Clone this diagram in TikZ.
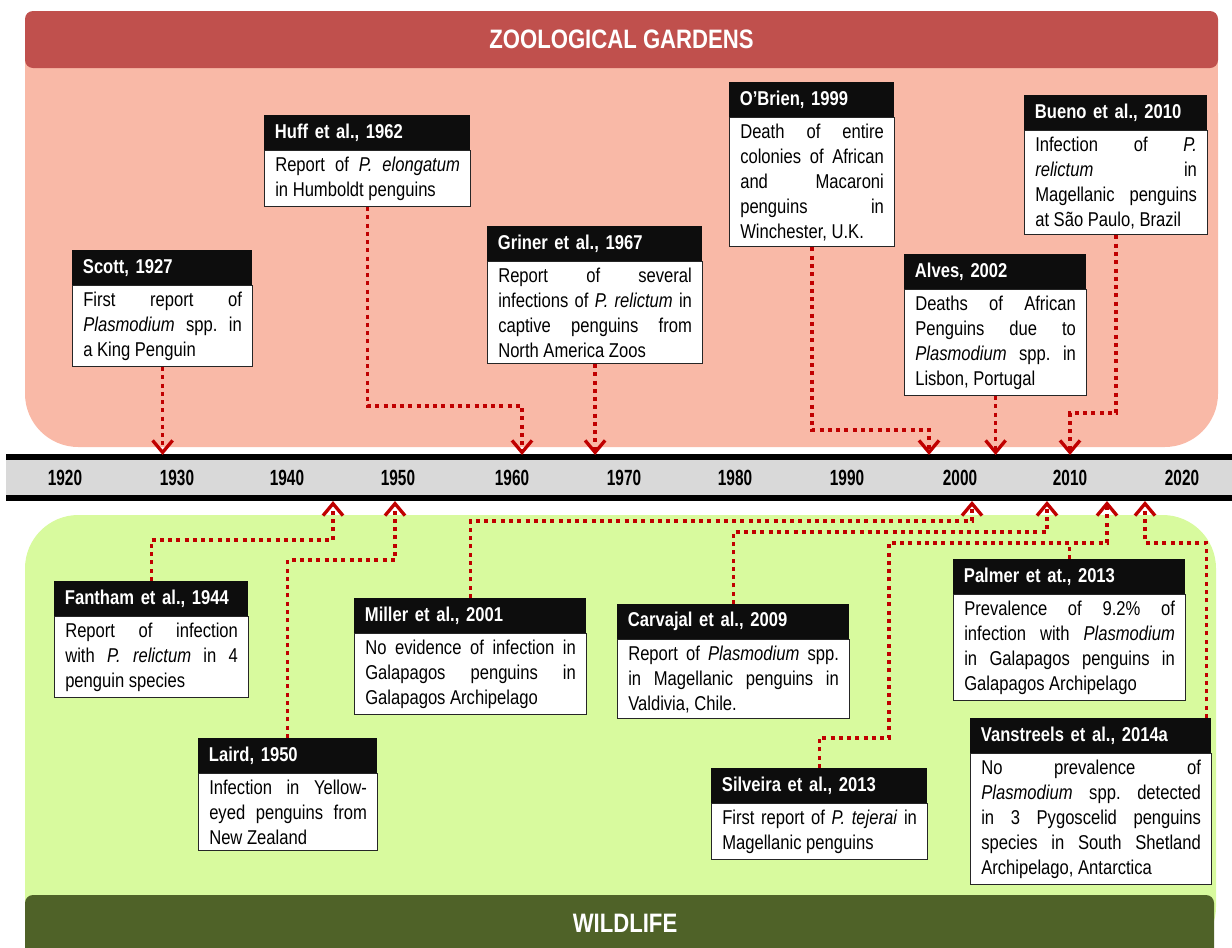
\documentclass[tikz,border=0pt]{standalone}
\usepackage{fontspec}
\setmainfont{Liberation Sans}[FakeStretch=0.83]
\newfontfamily\yearfont{Liberation Sans}[FakeStretch=0.7]
\usetikzlibrary{arrows.meta,positioning}
\definecolor{zoored}{RGB}{192,80,77}
\definecolor{zoopink}{RGB}{249,185,167}
\definecolor{wildgreen}{RGB}{216,250,158}
\definecolor{wilddark}{RGB}{79,98,40}
\definecolor{linkred}{RGB}{192,0,0}
\definecolor{barback}{RGB}{217,217,217}
\definecolor{headblack}{RGB}{13,13,13}

\begin{document}
\begin{tikzpicture}[x=0.75pt,y=-0.75pt,
headbox/.style = {text width=#1, fill=headblack, text=white,
                  inner xsep=8pt, inner ysep=0pt, minimum height=26pt,
                  align=left, anchor=north west,
                  font=\bfseries\fontsize{15}{18}\selectfont},
bodybox/.style = {text width=#1, draw=black!85, line width=0.9pt, fill=white,
                  inner xsep=8pt, inner ysep=4.5pt, align=justify,
                  font=\fontsize{15}{18.75}\selectfont,
                  execute at begin node={\tolerance=10000\hbadness=10000%
                                         \hyphenpenalty=10000\frenchspacing}},
bandtext/.style = {text=white, inner sep=0pt,
                  font=\bfseries\fontsize{20}{24}\selectfont},
yearlbl/.style  = {font=\yearfont\bfseries\fontsize{16.5}{19}\selectfont},
link/.style     = {draw=linkred, line width=2.5pt,
                  dash pattern=on 3pt off 3.2pt},
linkarrow/.style = {link, -{Straight Barb[length=9pt,width=15pt]}},
                    ]
\useasboundingbox (0,0) rectangle (1232,947);

% zoological gardens zone
\fill[zoopink, rounded corners=40pt] (25,60) rectangle (1218,447);
\fill[zoopink] (25,60) rectangle (1218,200);
\node[bandtext, fill=zoored, rounded corners=6pt,
      minimum width=894.75pt, minimum height=42.75pt] (zoo) at (621.5,39.5)
      {ZOOLOGICAL GARDENS};

% wildlife zone
\fill[wildgreen, rounded corners=40pt] (25,515) rectangle (1216,960);
\fill[wilddark, rounded corners=6pt] (25,895) rectangle (1214,990);
\node[bandtext] (wild) at (625,923) {WILDLIFE};

% timeline
\fill[barback] (6,458) rectangle (1232,497);
\draw[line width=4.5pt] (6,457) -- (1232,457);
\draw[line width=4.5pt] (6,498) -- (1232,498);
\foreach \yr/\xx in {1920/65,1930/177,1940/287,1950/398,1960/512,1970/624,
                     1980/735,1990/847,2000/960,2010/1070,2020/1182}
    \node[yearlbl] (y\yr) at (\xx,478) {\yr};

% zoo events
\node[headbox=119pt]    (scott)  at (72,250)  {Scott, 1927};
\node[bodybox=119pt, below right=0pt and 0pt of scott.south west] (scottb)
    {First report of\linebreak \textit{Plasmodium} spp. in\linebreak a King Penguin};
\node[headbox=138.5pt]  (huff)   at (264,115) {Huff et al., 1962};
\node[bodybox=138.5pt, below right=0pt and 0pt of huff.south west] (huffb)
    {Report of \textit{P. elongatum}\linebreak in Humboldt penguins};
\node[headbox=145.25pt] (griner) at (487,226) {Griner et al., 1967};
\node[bodybox=145.25pt, below right=0pt and 0pt of griner.south west] (grinerb)
    {Report of several\linebreak infections of \textit{P. relictum} in\linebreak
     captive penguins from\linebreak North America Zoos};
\node[headbox=107.75pt] (obrien) at (729,82)  {O’Brien, 1999};
\node[bodybox=107.75pt, below right=0pt and 0pt of obrien.south west] (obrienb)
    {Death of entire\linebreak colonies of African\linebreak and Macaroni\linebreak
     penguins in\linebreak Winchester, U.K.};
\node[headbox=120.5pt]  (alves)  at (904,254) {Alves, 2002};
\node[bodybox=120.5pt, below right=0pt and 0pt of alves.south west] (alvesb)
    {Deaths of African\linebreak Penguins due to\linebreak
     \textit{Plasmodium} spp. in\linebreak Lisbon, Portugal};
\node[headbox=121.25pt] (bueno)  at (1024,95) {Bueno et al., 2010};
\node[bodybox=121.25pt, below right=0pt and 0pt of bueno.south west] (buenob)
    {Infection of \textit{P.}\linebreak \textit{relictum} in\linebreak
     Magellanic penguins\linebreak at São Paulo, Brazil};

% wildlife events
\node[headbox=129.5pt]  (fantham)  at (54,581)  {Fantham et al., 1944};
\node[bodybox=129.5pt, below right=0pt and 0pt of fantham.south west] (fanthamb)
    {Report of infection\linebreak with \textit{P. relictum} in 4\linebreak penguin species};
\node[headbox=118.25pt] (laird)    at (198,738) {Laird, 1950};
\node[bodybox=118.25pt, below right=0pt and 0pt of laird.south west] (lairdb)
    {Infection in Yellow-\linebreak eyed penguins from\linebreak New Zealand};
\node[headbox=158pt]    (miller)   at (354,598) {Miller et al., 2001};
\node[bodybox=158pt, below right=0pt and 0pt of miller.south west] (millerb)
    {No evidence of infection in\linebreak Galapagos penguins in\linebreak
     Galapagos Archipelago};
\node[headbox=158pt]    (carvajal) at (617,604) {Carvajal et al., 2009};
\node[bodybox=158pt, below right=0pt and 0pt of carvajal.south west] (carvajalb)
    {Report of \textit{Plasmodium} spp.\linebreak in Magellanic penguins in\linebreak
     Valdivia, Chile.};
\node[headbox=146pt]    (silveira) at (711,768) {Silveira et al., 2013};
\node[bodybox=146pt, below right=0pt and 0pt of silveira.south west] (silveirab)
    {First report of \textit{P. tejerai} in\linebreak Magellanic penguins};
\node[headbox=158pt]    (palmer)   at (953,559) {Palmer et at., 2013};
\node[bodybox=158pt, below right=0pt and 0pt of palmer.south west] (palmerb)
    {Prevalence of 9.2\% of\linebreak infection with \textit{Plasmodium}\linebreak
     in Galapagos penguins in\linebreak Galapagos Archipelago};
\node[headbox=164.75pt] (vanstr)   at (970,718) {Vanstreels et al., 2014a};
\node[bodybox=164.75pt, below right=0pt and 0pt of vanstr.south west] (vanstrb)
    {No prevalence of\linebreak \textit{Plasmodium} spp. detected\linebreak
     in 3 Pygoscelid penguins\linebreak species in South Shetland\linebreak
     Archipelago, Antarctica};

% points on the timeline and corners of the links
\coordinate (t1927) at (162,455);
\coordinate (t1962) at (522,455);  \coordinate (c1962) at (522,406);
\coordinate (t1967) at (595,455);
\coordinate (t1999) at (929,455);  \coordinate (c1999) at (929,430);
\coordinate (t2002) at (994,455);
\coordinate (t2010) at (1070,455); \coordinate (c2010) at (1070,413);
\coordinate (t1944) at (333,501);  \coordinate (c1944) at (333,540);
\coordinate (t1950) at (395,501);  \coordinate (c1950) at (395,560);
\coordinate (t2001) at (972,501);  \coordinate (c2001) at (972,521);
\coordinate (t2009) at (1047,501); \coordinate (c2009) at (1047,532);
\coordinate (t2013) at (1107,501); \coordinate (c2013) at (1107,543);
\coordinate (s2013) at (889,738);
\coordinate (t2014) at (1145,501); \coordinate (c2014) at (1145,543);

\draw[linkarrow] (scottb.south)  -- (scottb.south |- t1927);
\draw[linkarrow] (huffb.south)   |- (c1962) -- (t1962);
\draw[linkarrow] (grinerb.south) -- (grinerb.south |- t1967);
\draw[linkarrow] (obrienb.south) |- (c1999) -- (t1999);
\draw[linkarrow] (alvesb.south)  -- (alvesb.south |- t2002);
\draw[linkarrow] (buenob.south)  |- (c2010) -- (t2010);

\draw[linkarrow] (fantham.north)  |- (c1944) -- (t1944);
\draw[linkarrow] (laird.north)    |- (c1950) -- (t1950);
\draw[linkarrow] (miller.north)   |- (c2001) -- (t2001);
\draw[linkarrow] (carvajal.north) |- (c2009) -- (t2009);
\draw[linkarrow] (silveira.north) |- (s2013) |- (c2013) -- (t2013);
\draw[link]      (palmer.north)   -- (palmer.north |- c2013);
\draw[linkarrow] ([xshift=-4pt]vanstr.north east) |- (c2014) -- (t2014);
\end{tikzpicture}
\end{document}
